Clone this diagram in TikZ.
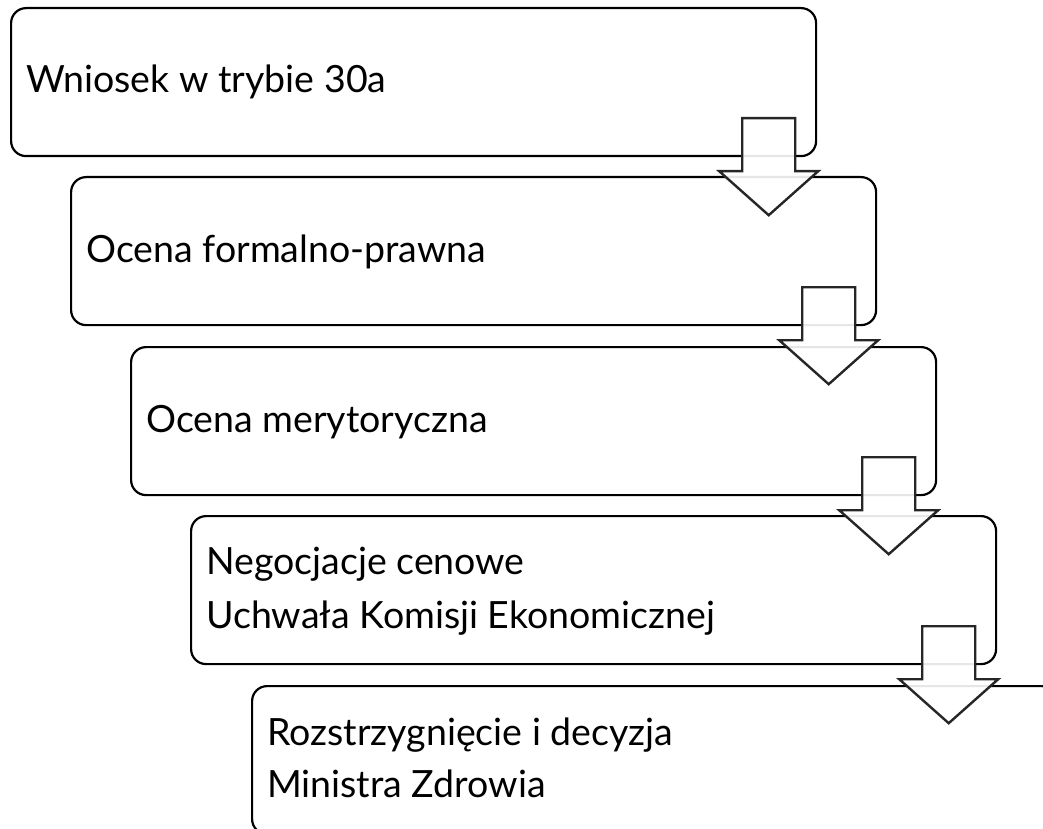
\documentclass[tikz,border=0pt]{standalone}
\usepackage{fontspec}
\setmainfont{Lato}
\usetikzlibrary{calc}
\tikzset{
  stagebox/.style={draw=black, line width=2.2pt, rounded corners=15pt, fill=none,
    minimum width=805pt, minimum height=148pt, inner sep=0pt, anchor=north west},
  lbl/.style={anchor=base west, inner sep=0pt, font=\fontsize{37.5}{54}\selectfont},
  blockarrow/.style={draw=black!85, line width=2.4pt, fill=white, fill opacity=0.9, line join=miter}
}
\begin{document}
\begin{tikzpicture}[x=1pt, y=-1pt]
\useasboundingbox (0,0) rectangle (1043,829);
\clip (0,0) rectangle (1043,829);
\node[stagebox] (b1) at (10,7) {};
\node[stagebox] (b2) at (70,176) {};
\node[stagebox] (b3) at (130,346) {};
\node[stagebox] (b4) at (190,515) {};
\node[stagebox] (b5) at (251,685) {};
\node[lbl] (t1) at ($(b1.north west)+(16,86)$) {Wniosek w trybie 30a};
\node[lbl] (t2) at ($(b2.north west)+(16,86)$) {Ocena formalno-prawna};
\node[lbl] (t3) at ($(b3.north west)+(16,86)$) {Ocena merytoryczna};
\node[lbl] (t4a) at ($(b4.north west)+(16,59)$) {Negocjacje cenowe};
\node[lbl] (t4b) at ($(b4.north west)+(16,113)$) {Uchwała Komisji Ekonomicznej};
\node[lbl] (t5a) at ($(b5.north west)+(16,60)$) {Rozstrzygnięcie i decyzja};
\node[lbl] (t5b) at ($(b5.north west)+(16,112)$) {Ministra Zdrowia};
\foreach \b in {b1,b2,b3,b4}{
  \draw[blockarrow]
    ($(\b.south east)+(-75,-39)$) -- ($(\b.south east)+(-22,-39)$)
    -- ($(\b.south east)+(-22,14)$) -- ($(\b.south east)+(1,14)$)
    -- ($(\b.south east)+(-48.5,58)$) -- ($(\b.south east)+(-98,14)$)
    -- ($(\b.south east)+(-75,14)$) -- cycle;
}
\end{tikzpicture}
\end{document}
